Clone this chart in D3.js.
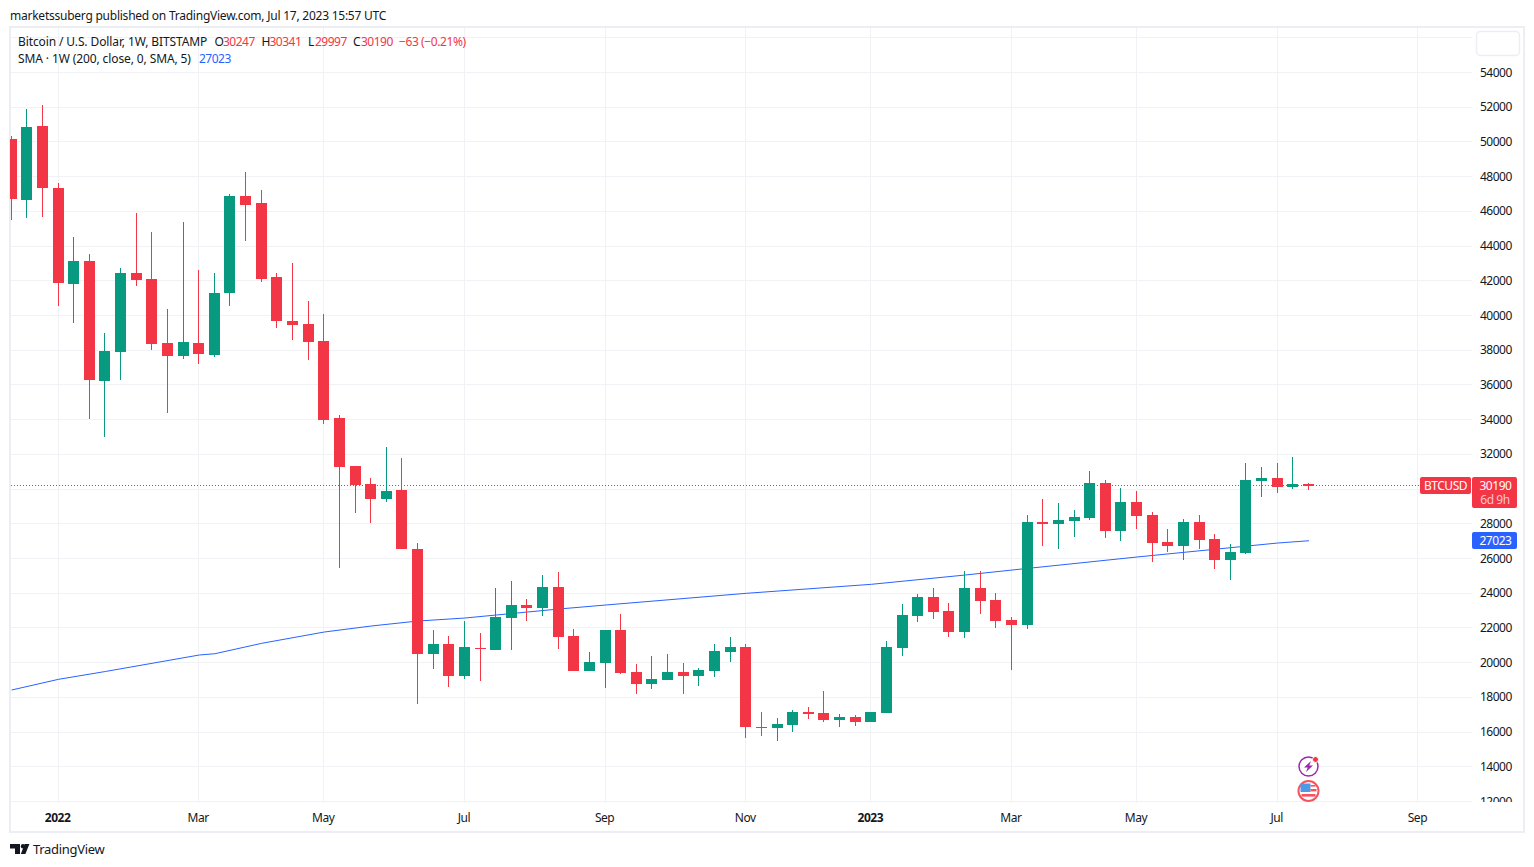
<!DOCTYPE html>
<html>
<head>
<meta charset="utf-8">
<title>BTCUSD 1W</title>
<script src="https://cdn.jsdelivr.net/npm/d3@7"></script>
<style>
    body { margin: 0; background: #fff; }
    svg { display: block; }
    text { font-family: "Noto Sans", sans-serif; font-size: 12px; fill: #131722; letter-spacing: -0.45px; }
    .axis path, .axis line { display: none; }
</style>
</head>
<body>
<div class="chart"></div>
<script>
// weekly candles, first bar is the week of 2021-12-13
const firstWeek = "2021-12-13";
const lastWeek = "2023-07-17";

const opens = [50166, 46652, 50915, 47343, 41813, 43138, 36225, 37895, 42446, 42101, 38414, 37665, 38414, 37722,
    41294, 46882, 46479, 42216, 39681, 39508, 38529, 34093, 31328, 30291, 29427, 29945, 26546, 20497, 21073, 19230,
    20843, 20727, 22571, 23320, 23147, 24357, 21534, 19518, 19979, 21880, 19460, 18769, 18999, 19460, 19230, 19518,
    20612, 20900, 16291, 16234, 16407, 17156, 17098, 16695, 16868, 16580, 17098, 20843, 22686, 23781, 22975, 21764,
    24299, 23608, 22456, 22168, 28102, 27986, 28159, 28332, 30348, 27583, 29254, 28505, 26949, 26719, 28102, 27122,
    25912, 26316, 30464, 30636, 30118, 30247];
const highs = [50299, 51895, 52125, 47631, 44520, 43541, 38990, 42735, 45903, 44808, 40373, 45385, 42619, 42446,
    46998, 48265, 47228, 42446, 43023, 40833, 40084, 34266, 31328, 30636, 32422, 31789, 26892, 21880, 21534, 22398,
    21707, 24299, 24703, 23665, 25048, 25221, 21937, 20612, 21880, 22802, 19921, 20382, 20497, 19979, 19691, 21073,
    21476, 21073, 17156, 16810, 17271, 17444, 18365, 17040, 16983, 17156, 21246, 23378, 23954, 24299, 23435, 25279,
    25279, 24011, 22629, 28505, 29427, 29196, 28793, 31040, 30521, 30060, 29887, 28678, 27698, 28274, 28505, 27410,
    26834, 31501, 31270, 31501, 31846, 30341];
const lows = [45500, 45615, 45673, 40545, 39566, 34035, 32998, 36282, 41698, 38010, 34381, 37492, 37204, 37607,
    40545, 44290, 41928, 39278, 38587, 37434, 33747, 25452, 28620, 28044, 29254, 26546, 17617, 19633, 18596, 19057,
    18942, 20727, 20727, 22398, 22686, 20785, 19518, 19518, 18538, 19345, 18193, 18481, 18999, 18193, 18654, 19172,
    20036, 15658, 15773, 15485, 16003, 16752, 16580, 16291, 16349, 16580, 17098, 20382, 22341, 22513, 21476, 21419,
    22802, 21995, 19575, 21937, 26719, 26546, 27237, 28217, 27180, 27007, 27698, 25797, 26373, 25912, 26546, 25394,
    24760, 26258, 29542, 29772, 30003, 29997];
const closes = [46710, 50858, 47343, 41870, 43138, 36282, 37953, 42446, 42043, 38356, 37665, 38471, 37780, 41294,
    46882, 46364, 42101, 39681, 39451, 38471, 33978, 31270, 30233, 29427, 29887, 26546, 20497, 21073, 19230, 20900,
    20785, 22629, 23320, 23147, 24357, 21476, 19518, 20036, 21880, 19402, 18769, 19057, 19460, 19230, 19575, 20670,
    20900, 16291, 16234, 16464, 17156, 17040, 16695, 16868, 16580, 17156, 20900, 22744, 23781, 22917, 21764, 24299,
    23550, 22398, 22168, 28102, 27986, 28217, 28390, 30348, 27583, 29254, 28447, 26892, 26719, 28102, 27065, 25912,
    26373, 30521, 30636, 30118, 30291, 30190];

// 200 week SMA at these weeks
const smaWeeks = ["2021-12-13", "2022-01-03", "2022-01-24", "2022-03-07", "2022-03-14", "2022-04-04", "2022-05-02",
    "2022-05-23", "2022-06-13", "2022-07-04", "2022-08-15", "2022-09-05", "2022-11-07", "2023-01-02", "2023-02-13",
    "2023-03-06", "2023-05-01", "2023-07-03", "2023-07-17"];
const smaValues = [18423, 19039, 19490, 20439, 20514, 21113, 21764, 22110, 22398, 22571, 23089, 23320, 23994, 24512,
    25047, 25335, 26086, 26892, 27023];

const priceTicks = [54000, 52000, 50000, 48000, 46000, 44000, 42000, 40000, 38000, 36000, 34000, 32000, 28000, 26000,
    24000, 22000, 20000, 18000, 16000, 14000, 12000];
const gridPrices = [56000, 54000, 52000, 50000, 48000, 46000, 44000, 42000, 40000, 38000, 36000, 34000, 32000, 30000,
    28000, 26000, 24000, 22000, 20000, 18000, 16000, 14000, 12000];
const timeTicks = ["2022-01-03", "2022-03-07", "2022-05-02", "2022-07-04", "2022-09-05", "2022-11-07", "2023-01-02",
    "2023-03-06", "2023-05-01", "2023-07-03", "2023-09-04"];
const timeLabels = ["2022", "Mar", "May", "Jul", "Sep", "Nov", "2023", "Mar", "May", "Jul", "Sep"];

const lastPrice = 30190;
const lastSma = 27023;
const upColor = "#089981";
const downColor = "#f23645";
const blue = "#2962ff";
const gridColor = "#f1f2f5";
const frameColor = "#eceef4";

const parseDay = d3.utcParse("%Y-%m-%d");
const weeks = d3.utcMonday.range(parseDay(firstWeek), d3.utcDay.offset(parseDay(lastWeek), 1));
const candles = weeks.map((d, i) => ({
    date: d,
    open: opens[i],
    high: highs[i],
    low: lows[i],
    close: closes[i],
}));

const svg = d3.select(".chart").append("svg").attr("width", 1534).attr("height", 867);

const x = d3.scaleUtc().domain([parseDay(timeTicks[0]), parseDay(timeTicks[10])]).range([58.05, 1417.86]);
const y = d3.scaleLinear().domain([12000, 54000]).range([801.5, 72.5]);
const xCol = (d) => Math.floor(x(d));

svg.append("defs").append("clipPath").attr("id", "plot")
    .append("rect").attr("x", 10).attr("y", 28).attr("width", 1462).attr("height", 774);

// header line
svg.append("text").attr("x", 10).attr("y", 19.5).style("letter-spacing", "-0.24px")
    .text("marketssuberg published on TradingView.com, Jul 17, 2023 15:57 UTC");

// grid
const grid = svg.append("g").attr("shape-rendering", "crispEdges");
grid.selectAll(".h").data(gridPrices).enter().append("line")
    .attr("x1", 11).attr("x2", 1472)
    .attr("y1", (d) => Math.floor(y(d)) + 0.5).attr("y2", (d) => Math.floor(y(d)) + 0.5)
    .attr("stroke", gridColor);
grid.selectAll(".v").data(timeTicks).enter().append("line")
    .attr("x1", (d) => xCol(parseDay(d)) + 0.5).attr("x2", (d) => xCol(parseDay(d)) + 0.5)
    .attr("y1", 28).attr("y2", 803)
    .attr("stroke", gridColor);

// outer frame
svg.append("rect").attr("x", 10).attr("y", 27).attr("width", 1514).attr("height", 805)
    .attr("fill", "none").attr("stroke", frameColor).attr("stroke-width", 2);
svg.append("rect").attr("x", 1476.5).attr("y", 31.5).attr("width", 43).attr("height", 24).attr("rx", 4)
    .attr("fill", "#fff").attr("stroke", frameColor).attr("stroke-width", 1.5);

const plot = svg.append("g").attr("clip-path", "url(#plot)");

// last price line
plot.append("line")
    .attr("x1", 11).attr("x2", 1420)
    .attr("y1", Math.floor(y(lastPrice)) + 0.5).attr("y2", Math.floor(y(lastPrice)) + 0.5)
    .attr("stroke", downColor).attr("stroke-dasharray", "1 2").attr("shape-rendering", "crispEdges");

// sma
const smaLine = d3.line()
    .x((d, i) => x(parseDay(smaWeeks[i])) + 0.5)
    .y((d) => y(d));
plot.append("path")
    .attr("d", smaLine(smaValues))
    .attr("fill", "none").attr("stroke", blue).attr("stroke-width", 1);

// candles, snapped to whole pixels
const candleColor = (d) => (d.close >= d.open ? upColor : downColor);
const topPx = (v) => Math.floor(y(v) + 0.05);
const bottomPx = (v) => Math.ceil(y(v) - 0.05);
const bars = plot.append("g").attr("shape-rendering", "crispEdges")
    .selectAll("g").data(candles).enter().append("g");
bars.append("rect")
    .attr("x", (d) => xCol(d.date))
    .attr("width", 1)
    .attr("y", (d) => topPx(d.high))
    .attr("height", (d) => Math.max(1, bottomPx(d.low) - topPx(d.high)))
    .attr("fill", candleColor);
bars.append("rect")
    .attr("x", (d) => xCol(d.date) - 5)
    .attr("width", 11)
    .attr("y", (d) => topPx(Math.max(d.open, d.close)))
    .attr("height", (d) => Math.max(1, bottomPx(Math.min(d.open, d.close)) - topPx(Math.max(d.open, d.close))))
    .attr("fill", candleColor);

// price axis, 12000 gets cut by the time axis
svg.append("defs").append("clipPath").attr("id", "priceClip")
    .append("rect").attr("x", 1473).attr("y", 60).attr("width", 50).attr("height", 742);
const priceAxis = d3.axisRight(y).tickValues(priceTicks).tickSize(0).tickPadding(0).tickFormat(d3.format("d"));
const priceG = svg.append("g").attr("class", "axis").attr("clip-path", "url(#priceClip)")
    .append("g").attr("transform", "translate(1480,-0.3)").call(priceAxis);
priceG.selectAll("text").attr("fill", null).style("letter-spacing", "-0.5px");

// time axis
const timeAxis = d3.axisBottom(x)
    .tickValues(timeTicks.map(parseDay))
    .tickSize(0).tickPadding(0)
    .tickFormat((d, i) => timeLabels[i]);
const timeG = svg.append("g").attr("class", "axis").attr("transform", "translate(-1,813)").call(timeAxis);
timeG.selectAll("text").attr("fill", null)
    .style("font-weight", (d, i) => (/^\d/.test(timeLabels[i]) ? 700 : 400));

// legend
const legendRows = [
    { x: 18, y: 46, text: "Bitcoin / U.S. Dollar, 1W, BITSTAMP", color: "#131722", ls: -0.11 },
    { x: 214.5, y: 46, text: "O", color: "#131722", ls: 0 },
    { x: 223, y: 46, text: "30247", color: downColor, ls: -0.5 },
    { x: 261.5, y: 46, text: "H", color: "#131722", ls: 0 },
    { x: 269.5, y: 46, text: "30341", color: downColor, ls: -0.5 },
    { x: 308, y: 46, text: "L", color: "#131722", ls: 0 },
    { x: 315, y: 46, text: "29997", color: downColor, ls: -0.5 },
    { x: 353, y: 46, text: "C", color: "#131722", ls: 0 },
    { x: 361, y: 46, text: "30190", color: downColor, ls: -0.5 },
    { x: 399, y: 46, text: "\u221263 (\u22120.21%)", color: downColor, ls: -0.4 },
    { x: 18, y: 63, text: "SMA \u00b7 1W (200, close, 0, SMA, 5)", color: "#131722", ls: -0.11 },
    { x: 199, y: 63, text: "27023", color: blue, ls: -0.5 },
];
svg.selectAll(".legend").data(legendRows).enter().append("text")
    .attr("class", "legend")
    .attr("x", (d) => d.x).attr("y", (d) => d.y)
    .style("fill", (d) => d.color)
    .style("letter-spacing", (d) => `${d.ls}px`)
    .text((d) => d.text);

// price tags
svg.append("rect").attr("x", 1420).attr("y", 477).attr("width", 51).attr("height", 17).attr("rx", 2).attr("fill", downColor);
svg.append("text").attr("x", 1445.5).attr("y", 490).attr("text-anchor", "middle").style("fill", "#fff").text("BTCUSD");
svg.append("rect").attr("x", 1472).attr("y", 477).attr("width", 45).attr("height", 31).attr("rx", 2).attr("fill", downColor);
svg.append("text").attr("x", 1495.5).attr("y", 490).attr("text-anchor", "middle").style("fill", "#fff").text(lastPrice);
svg.append("text").attr("x", 1495).attr("y", 504).attr("text-anchor", "middle").style("fill", "#fbc4c9").text("6d 9h");
svg.append("rect").attr("x", 1472).attr("y", 532).attr("width", 45).attr("height", 17).attr("rx", 2).attr("fill", blue);
svg.append("text").attr("x", 1495.5).attr("y", 545).attr("text-anchor", "middle").style("fill", "#fff").text(lastSma);

// event icons over the last bar
const iconX = xCol(parseDay(lastWeek)) + 0.5;
const bolt = svg.append("g").attr("transform", `translate(${iconX},766.5)`);
bolt.append("circle").attr("r", 9.5).attr("fill", "#fff").attr("stroke", "#9c27b0").attr("stroke-width", 1.5);
bolt.append("path").attr("d", "M2.5,-5.5 L-4.5,1 L-0.8,1 L-2.5,5.5 L4.5,-1 L0.8,-1 Z").attr("fill", "#9c27b0");
bolt.append("circle").attr("cx", 7).attr("cy", -7).attr("r", 3).attr("fill", downColor).attr("stroke", "#fff").attr("stroke-width", 1);

const flag = svg.append("g").attr("transform", `translate(${iconX},791)`);
flag.append("circle").attr("r", 10).attr("fill", "#fff").attr("stroke", "#f7525f").attr("stroke-width", 2);
flag.append("rect").attr("x", -8).attr("y", -7.5).attr("width", 10).attr("height", 8.5).attr("fill", "#4c9be8");
flag.append("rect").attr("x", 2).attr("y", -6).attr("width", 5).attr("height", 1.6).attr("fill", "#f7525f");
flag.append("rect").attr("x", 2).attr("y", -2).attr("width", 6).attr("height", 2.4).attr("fill", "#f7525f");
flag.append("rect").attr("x", -7).attr("y", 3).attr("width", 14).attr("height", 2.6).attr("fill", "#f7525f");

// footer logo
const logo = svg.append("g").attr("fill", "#131722");
logo.append("path").attr("d", "M10,844 H20 V854 H15 V848.5 H10 Z");
logo.append("circle").attr("cx", 23).attr("cy", 846.2).attr("r", 2.2);
logo.append("path").attr("d", "M24.8,844 H29.4 L25.4,854 H20.8 Z");
svg.append("text").attr("x", 33).attr("y", 854).style("font-size", "13px").style("letter-spacing", "-0.3px").text("TradingView");
</script>
</body>
</html>
